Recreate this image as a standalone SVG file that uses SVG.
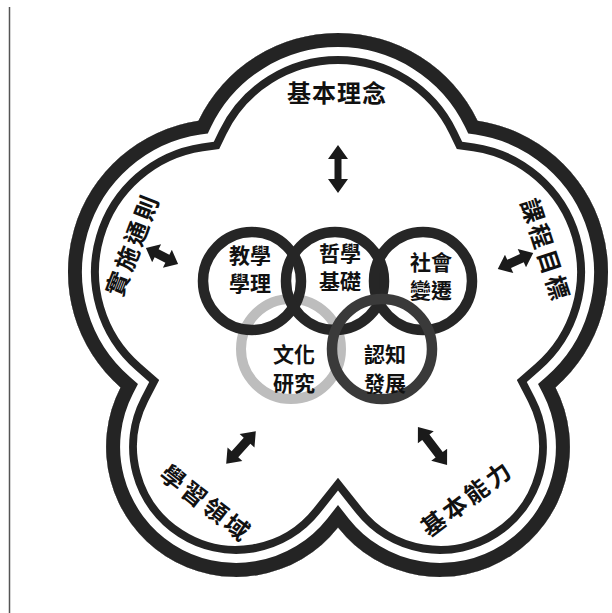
<svg xmlns="http://www.w3.org/2000/svg" width="612" height="613" viewBox="0 0 612 613">
<defs>
<style>
.band{fill:none;stroke:#242424;stroke-linejoin:miter;stroke-miterlimit:12}
.gap{fill:none;stroke:#ffffff;stroke-linejoin:miter;stroke-miterlimit:12}
.ring{fill:none;stroke:#262626;stroke-width:10.5}
.ring2{fill:none;stroke:#3a3a3a;stroke-width:10.5}
.ringlight{fill:none;stroke:#bdbdbd;stroke-width:10}
.lbl{font-family:"Noto Sans CJK TC","Noto Sans CJK SC",sans-serif;fill:#111;text-anchor:middle;dominant-baseline:central;font-weight:700}
.rt{font-size:21px}
.ot{font-size:24px;letter-spacing:3px}
.arrow{fill:#1a1a1a}
</style>
<path id="outline" d="M198.4,120.7 A155,155 0 0 1 477.6,120.7 A153,153 0 0 1 555.5,387.4 A130,130 0 0 1 338,527.6 A130,130 0 0 1 120.5,387.4 A153,153 0 0 1 198.4,120.7 Z"/>
<clipPath id="inside"><use href="#outline"/></clipPath>
</defs>
<rect width="612" height="613" fill="#ffffff"/>
<line x1="9.5" y1="7" x2="9.5" y2="613" stroke="#555" stroke-width="1.5"/>
<g id="flower" clip-path="url(#inside)">
  <use href="#outline" class="band" stroke-width="62"/>
  <use href="#outline" class="gap" stroke-width="46"/>
  <use href="#outline" class="band" stroke-width="28"/>
</g>
<g id="label-jibenlinian"><text class="lbl ot" x="337" y="91" style="letter-spacing:1px">基本理念</text></g>
<g id="label-kechengmubiao"><text class="lbl ot" x="547" y="250" transform="rotate(72 547 250)">課程目標</text></g>
<g id="label-shishitongze"><text class="lbl ot" x="131" y="244" transform="rotate(-69 131 244)">實施通則</text></g>
<g id="label-xuexilingyu"><text class="lbl ot" x="207" y="502" transform="rotate(38 207 502)">學習領域</text></g>
<g id="label-jibennengli"><text class="lbl ot" x="466" y="497" transform="rotate(-37 466 497)">基本能力</text></g>
<g id="ring-wenhua">
  <circle class="ringlight" cx="291" cy="349" r="50"/>
  <text class="lbl rt" x="294"><tspan x="294" y="353">文化</tspan><tspan x="294" y="382">研究</tspan></text>
</g>
<g id="ring-jiaoxue">
  <circle class="ring" cx="252" cy="281" r="49"/>
  <text class="lbl rt" x="250"><tspan x="250" y="254">教學</tspan><tspan x="250" y="282">學理</tspan></text>
</g>
<g id="ring-zhexue">
  <circle class="ring" cx="335" cy="281" r="49"/>
  <text class="lbl rt" x="340"><tspan x="340" y="252">哲學</tspan><tspan x="340" y="280">基礎</tspan></text>
</g>
<g id="ring-shehui">
  <circle class="ring" cx="423" cy="281" r="49"/>
  <text class="lbl rt" x="431"><tspan x="431" y="261">社會</tspan><tspan x="431" y="289">變遷</tspan></text>
</g>
<g id="ring-renzhi">
  <circle class="ring2" cx="382" cy="349" r="50"/>
  <text class="lbl rt" x="385"><tspan x="385" y="353">認知</tspan><tspan x="385" y="382">發展</tspan></text>
</g>
<g id="connectors" class="arrow">
  <path transform="translate(338 169) rotate(90)" d="M-24,0 L-10,-10 L-10,-3.5 L10,-3.5 L10,-10 L24,0 L10,10 L10,3.5 L-10,3.5 L-10,10Z"/>
  <path transform="translate(515.5 261) rotate(-24.6)" d="M-19.5,0 L-7,-10 L-7,-4.5 L7,-4.5 L7,-10 L19.5,0 L7,10 L7,4.5 L-7,4.5 L-7,10Z"/>
  <path transform="translate(162 256) rotate(26.6)" d="M-18,0 L-6,-10 L-6,-4.5 L6,-4.5 L6,-10 L18,0 L6,10 L6,4.5 L-6,4.5 L-6,10Z"/>
  <path transform="translate(241 447.5) rotate(-47.7)" d="M-22,0 L-9,-10 L-9,-4.5 L9,-4.5 L9,-10 L22,0 L9,10 L9,4.5 L-9,4.5 L-9,10Z"/>
  <path transform="translate(432.5 446) rotate(52.6)" d="M-24,0 L-11,-10 L-11,-4.5 L11,-4.5 L11,-10 L24,0 L11,10 L11,4.5 L-11,4.5 L-11,10Z"/>
</g>
</svg>
